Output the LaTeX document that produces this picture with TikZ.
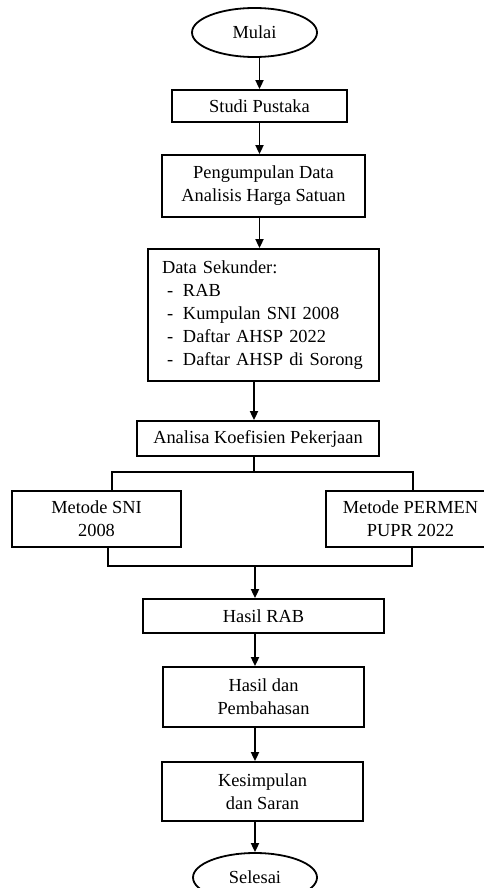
\documentclass[tikz,border=0pt]{standalone}
\usepackage{fontspec}
\setmainfont{Liberation Serif}
\usepackage{tikz}
\usetikzlibrary{shapes.geometric,positioning,arrows.meta}

\begin{document}
\begin{tikzpicture}[x=1pt, y=-1pt,
    box/.style={draw, line width=1.8pt, inner sep=0pt, align=center},
    term/.style={draw, ellipse, line width=1.8pt, inner sep=0pt, minimum width=125pt, minimum height=49pt},
    flow/.style={line width=1.8pt, -{Triangle[length=9pt,width=8pt]}},
    font=\fontsize{18.4}{23}\selectfont]
    \useasboundingbox (0,0) rectangle (483,888);

    % Start
    \node[term] (mulai) at (254.5,32.5) {Mulai};

    % Main steps
    \node[box, minimum width=175pt, minimum height=32pt] (studi) at (259.5,106) {Studi Pustaka};
    \node[box, minimum width=203pt, minimum height=62pt] (kumpul) at (263.5,186) {Pengumpulan Data\\Analisis Harga Satuan};
    \node[box, align=left, inner xsep=14pt, text width=203pt, minimum height=132pt] (data) at (263.5,315)
        {Data Sekunder:\\
         \makebox[21pt][l]{\hspace*{5pt}-}RAB\\
         \makebox[21pt][l]{\hspace*{5pt}-}Kumpulan SNI 2008\\
         \makebox[21pt][l]{\hspace*{5pt}-}Daftar AHSP 2022\\
         \makebox[21pt][l]{\hspace*{5pt}-}Daftar AHSP di Sorong};
    \node[box, minimum width=242pt, minimum height=35pt] (analisa) at (258,438.5) {Analisa Koefisien Pekerjaan};

    % Two methods
    \node[box, minimum width=169pt, minimum height=56pt] (sni) at (96.5,519) {Metode SNI\\2008};
    \node[box, minimum width=169pt, minimum height=56pt] (permen) at (410.5,519) {Metode PERMEN\\PUPR 2022};
    \coordinate (split) at (254,472);
    \coordinate (join) at (255,566);

    % Results
    \node[box, minimum width=241pt, minimum height=34pt] (hasil) at (263.5,616) {Hasil RAB};
    \node[box, minimum width=201pt, minimum height=60pt] (bahas) at (263.5,697) {Hasil dan\\Pembahasan};
    \node[box, minimum width=201pt, minimum height=59pt] (kesim) at (262.5,791.5) {Kesimpulan\\dan Saran};

    % End
    \node[term, minimum width=124pt] (selesai) at (255,877.5) {Selesai};

    % Connectors
    \draw[flow] (mulai.south -| studi.north) -- (studi.north);
    \draw[flow] (studi.south) -- (kumpul.north -| studi.south);
    \draw[flow] (kumpul.south -| studi.south) -- (data.north -| studi.south);
    \draw[flow] (data.south -| split) -- (analisa.north -| split);
    \draw[line width=1.8pt] (analisa.south -| split) -- (split);
    \draw[line width=1.8pt] ([xshift=15.5pt]sni.north) |- (split) -| ([xshift=2.5pt]permen.north);
    \draw[line width=1.8pt] ([xshift=11.5pt]sni.south) |- (join) -| ([xshift=1.5pt]permen.south);
    \draw[flow] (join) -- (hasil.north -| join);
    \draw[flow] (hasil.south -| selesai.north) -- (bahas.north -| selesai.north);
    \draw[flow] (bahas.south -| selesai.north) -- (kesim.north -| selesai.north);
    \draw[flow] (kesim.south -| selesai.north) -- (selesai.north);
\end{tikzpicture}
\end{document}
